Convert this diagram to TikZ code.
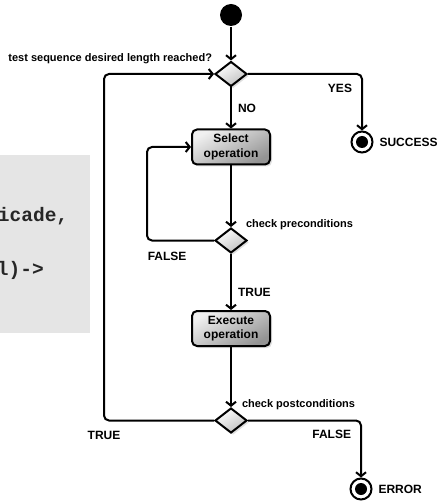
\documentclass[tikz,border=0pt]{standalone}
\usepackage{fontspec}
\setmainfont{Liberation Sans}
\setmonofont{Liberation Mono}
\usetikzlibrary{positioning,arrows.meta,shapes.geometric,shadows}

\begin{document}
\begin{tikzpicture}[x=1pt, y=-1pt, line width=2pt,
		>={Straight Barb[length=4pt,width=10pt]},
		initstate/.style={circle, fill=black, inner sep=0pt, minimum size=22pt},
		finalstate/.style={circle, draw, fill=white, inner sep=0pt, minimum size=21pt,
			path picture={\fill[black] (path picture bounding box.center) circle (6pt);}},
		decision/.style={diamond, draw, aspect=1.28, inner sep=0pt,
			minimum width=32pt, minimum height=25pt,
			top color=white, bottom color=black!25, shading angle=30,
			drop shadow={shadow xshift=2pt, shadow yshift=-2pt, opacity=0.25}},
		action/.style={rectangle, draw, rounded corners=5pt, align=center,
			minimum width=78pt, minimum height=35pt, inner sep=1pt,
			font=\fontsize{12}{14.5}\selectfont\bfseries,
			top color=black!6, bottom color=black!42, shading angle=30,
			drop shadow={shadow xshift=2pt, shadow yshift=-2pt, opacity=0.25}},
		guard/.style={font=\fontsize{11}{13}\selectfont\bfseries, inner sep=1pt},
		branch/.style={font=\fontsize{12}{14}\selectfont\bfseries, inner sep=1pt},
		code/.style={font=\fontsize{19.5}{22}\selectfont\ttfamily\bfseries, text=black!85, inner sep=0pt},
		flow/.style={->, rounded corners=5pt}]
		\useasboundingbox (0,0) rectangle (441,502);

		% code listing behind the diagram
		\fill[black!10] (0,155) rectangle (90,333);
		\node[code, anchor=base west] (c1) at (-3,222) {icade,};
		\node[code, anchor=base west] (c2) at (-4,275) {l)->};

		\node[initstate] (init) at (231,15) {};
		\node[decision, below=33.5pt of init] (d1) {};
		\node[action, below=41pt of d1] (sel) {Select\\operation};
		\node[decision, below=61.5pt of sel] (d2) {};
		\node[action, below=56pt of d2] (exec) {Execute\\operation};
		\node[decision, below=60pt of exec] (d3) {};

		\node[finalstate, label={[branch, label distance=4pt]right:SUCCESS}] (succ) at (362,142) {};
		\node[finalstate, label={[branch, label distance=4pt]right:ERROR}] (err) at (361,489) {};

		\node[guard, left=17pt of d1.north, yshift=1.5pt] (g1) {test sequence desired length reached?};
		\node[guard, right=13pt of d2.north, yshift=2pt] (g2) {check preconditions};
		\node[guard, right=9pt of d3.north, yshift=2.5pt] (g3) {check postconditions};

		\draw[flow] (init) -- (d1);
		\draw[flow] (d1) -- node[branch, right=5pt] (lno) {NO} (sel);
		\draw[flow] (d1.east) -| node[branch, pos=0.5, anchor=north east, xshift=-8pt, yshift=-8pt] (lyes) {YES} (succ);

		\draw[flow] (sel) -- (d2);
		\draw[flow] (d2.west) -- node[branch, pos=0.7, below=10pt] (lfalse) {FALSE} ++(-67,0) |- (sel.west);
		\draw[flow] (d2) -- node[branch, pos=0.68, right=5pt] (ltrue) {TRUE} (exec);

		\draw[flow] (exec) -- (d3);
		\draw[flow] (d3.west) -- node[branch, pos=1, below=9pt] (lagain) {TRUE} ++(-110,0) |- (d1.west);
		\draw[flow] (d3.east) -| node[branch, pos=0.5, anchor=north east, xshift=-8pt, yshift=-8pt] (lfail) {FALSE} (err);
	\end{tikzpicture}
\end{document}
